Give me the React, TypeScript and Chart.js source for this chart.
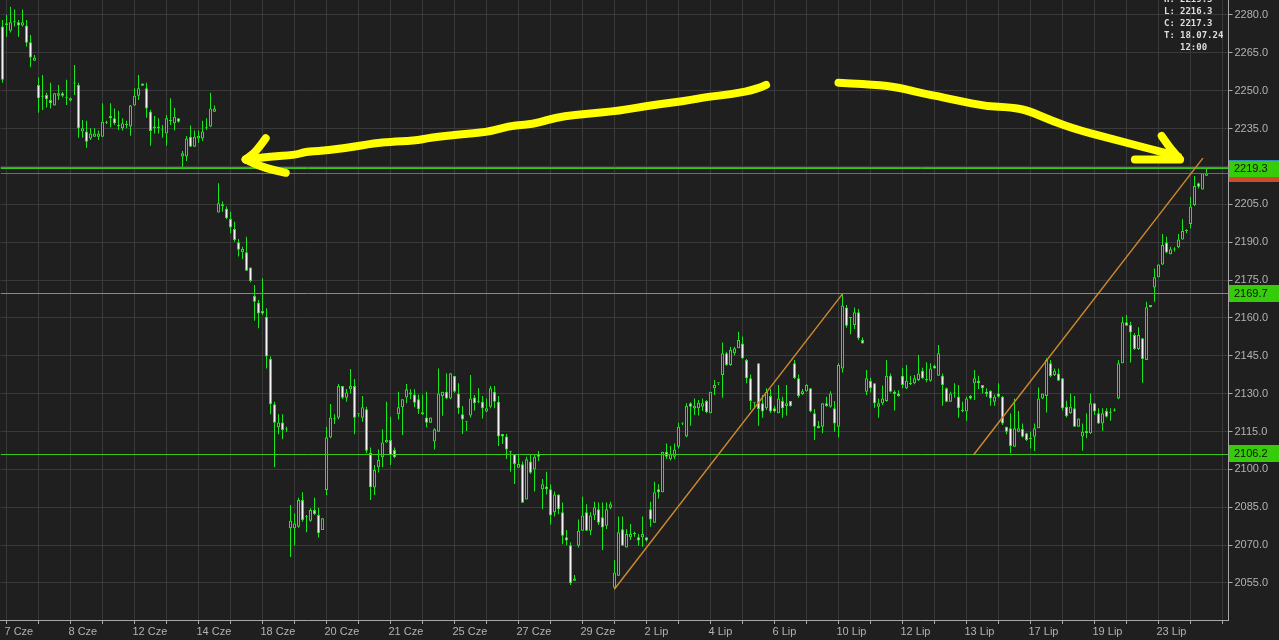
import React, { useEffect, useRef } from "react";
import { Chart, registerables } from "chart.js";

Chart.register(...registerables);

// ---------- data ----------
const dateLabels = ["7 Cze", "8 Cze", "12 Cze", "14 Cze", "18 Cze", "20 Cze", "21 Cze", "25 Cze", "27 Cze", "29 Cze", "2 Lip", "4 Lip", "6 Lip", "10 Lip", "12 Lip", "13 Lip", "17 Lip", "19 Lip", "23 Lip"];
const priceTicks = [2055, 2070, 2085, 2100, 2115, 2130, 2145, 2160, 2175, 2190, 2205, 2220, 2235, 2250, 2265, 2280];

const openP = [
  2275.4, 2276.0, 2273.8, 2277.4, 2277.1, 2275.8, 2275.8, 2269.2, 2261.9, 2252.3,
  2247.6, 2248.3, 2246.3, 2244.1, 2248.0, 2249.0, 2247.0, 2246.1, 2253.0, 2252.3,
  2233.8, 2233.8, 2231.1, 2231.8, 2231.8, 2231.8, 2237.4, 2240.0, 2239.1, 2236.0,
  2235.1, 2236.5, 2235.8, 2244.1, 2248.0, 2252.9, 2251.0, 2241.7, 2235.1, 2235.8,
  2234.2, 2233.1, 2238.0, 2237.1, 2239.1, 2223.9, 2223.9, 2231.8, 2227.8, 2231.1,
  2231.1, 2235.3, 2235.8, 2241.7, 2201.8, 2204.2, 2203.2, 2199.2, 2195.2, 2190.0,
  2186.0, 2186.0, 2180.0, 2168.7, 2166.0, 2162.7, 2160.5, 2143.7, 2125.8, 2116.7,
  2118.6, 2115.9, 2076.7, 2076.7, 2077.3, 2087.9, 2081.1, 2079.7, 2083.9, 2081.9,
  2076.0, 2091.8, 2112.6, 2119.9, 2120.5, 2133.0, 2128.4, 2131.7, 2133.0, 2121.9,
  2120.5, 2123.8, 2106.6, 2092.8, 2100.8, 2104.8, 2110.7, 2111.6, 2107.7, 2121.8,
  2124.6, 2128.5, 2130.5, 2129.7, 2127.8, 2122.6, 2120.6, 2118.5, 2111.0, 2114.9,
  2129.1, 2130.8, 2128.1, 2137.0, 2130.1, 2121.8, 2118.9, 2121.3, 2128.5, 2126.8,
  2126.8, 2122.9, 2124.8, 2130.8, 2126.8, 2114.0, 2113.0, 2107.0, 2106.0, 2100.7,
  2102.0, 2088.1, 2103.1, 2100.0, 2106.0, 2092.1, 2093.2, 2092.1, 2083.0, 2090.1,
  2083.0, 2073.1, 2070.0, 2055.9, 2069.8, 2075.7, 2083.0, 2075.7, 2081.7, 2084.2,
  2081.0, 2077.7, 2084.8, 2053.1, 2057.9, 2076.3, 2069.1, 2073.1, 2074.4, 2073.1,
  2073.1, 2073.1, 2084.2, 2078.9, 2092.1, 2090.9, 2107.0, 2104.0, 2105.0, 2109.0,
  2118.2, 2113.0, 2126.2, 2124.2, 2124.2, 2124.8, 2127.1, 2122.2, 2132.1, 2134.1,
  2137.4, 2146.0, 2141.4, 2146.0, 2148.0, 2149.9, 2143.3, 2136.1, 2126.4, 2142.0,
  2126.2, 2124.2, 2129.1, 2124.2, 2122.2, 2127.1, 2125.1, 2127.1, 2142.0, 2136.1,
  2129.9, 2131.0, 2132.1, 2122.2, 2117.2, 2116.9, 2126.2, 2124.8, 2124.2, 2116.9,
  2140.0, 2164.1, 2160.1, 2157.2, 2162.2, 2151.3, 2130.8, 2135.1, 2134.1, 2124.8,
  2126.2, 2127.1, 2137.1, 2130.8, 2130.1, 2137.1, 2132.1, 2133.8, 2134.1, 2135.4,
  2139.1, 2135.4, 2135.1, 2141.1, 2137.1, 2137.1, 2132.1, 2126.8, 2130.1, 2128.8,
  2123.1, 2122.9, 2129.1, 2134.1, 2135.1, 2133.4, 2130.8, 2131.1, 2126.8, 2130.1,
  2128.8, 2116.9, 2116.3, 2109.0, 2114.9, 2116.0, 2114.3, 2112.0, 2112.9, 2116.3,
  2128.1, 2129.1, 2142.0, 2137.4, 2138.0, 2136.1, 2124.8, 2122.2, 2124.2, 2116.9,
  2113.0, 2115.2, 2114.3, 2126.2, 2122.2, 2118.2, 2123.1, 2122.2, 2123.3, 2128.1,
  2142.0, 2158.3, 2157.2, 2153.2, 2147.7, 2151.9, 2143.3, 2165.1, 2172.1, 2176.1,
  2181.2, 2189.9, 2185.2, 2187.2, 2188.0, 2191.1, 2194.4, 2197.2, 2204.7, 2213.3,
  2210.9, 2216.3,
];

const highP = [
  2278.0, 2280.0, 2283.3, 2282.2, 2278.0, 2282.2, 2278.0, 2272.1, 2264.2, 2255.2,
  2256.2, 2249.2, 2253.2, 2249.0, 2252.3, 2249.5, 2254.3, 2247.3, 2260.2, 2253.2,
  2238.4, 2238.1, 2235.1, 2235.1, 2234.2, 2245.0, 2238.1, 2245.0, 2243.0, 2242.1,
  2239.1, 2238.1, 2244.3, 2251.0, 2256.2, 2252.9, 2253.2, 2242.4, 2240.0, 2239.1,
  2236.4, 2240.4, 2247.0, 2243.3, 2239.1, 2226.1, 2232.1, 2236.2, 2234.2, 2234.2,
  2238.1, 2239.1, 2249.2, 2244.1, 2213.3, 2206.1, 2204.1, 2202.1, 2198.1, 2191.3,
  2188.2, 2192.2, 2180.0, 2173.0, 2167.1, 2175.7, 2163.8, 2144.7, 2126.8, 2121.8,
  2121.8, 2116.9, 2085.9, 2082.6, 2088.8, 2090.9, 2081.9, 2084.6, 2088.8, 2084.8,
  2080.6, 2116.9, 2125.9, 2121.8, 2133.8, 2133.0, 2131.8, 2139.8, 2135.8, 2121.9,
  2129.1, 2124.8, 2108.7, 2101.7, 2107.9, 2115.9, 2126.8, 2120.9, 2108.7, 2130.8,
  2127.8, 2133.8, 2131.7, 2131.7, 2129.7, 2129.7, 2130.8, 2120.6, 2116.3, 2140.0,
  2130.8, 2138.1, 2138.1, 2137.0, 2134.1, 2125.1, 2119.0, 2137.4, 2129.5, 2132.1,
  2129.1, 2128.1, 2133.0, 2133.0, 2129.1, 2114.0, 2114.0, 2107.3, 2106.0, 2105.7,
  2103.1, 2105.0, 2105.7, 2105.7, 2107.3, 2096.2, 2099.1, 2094.1, 2091.2, 2090.1,
  2086.9, 2076.0, 2071.1, 2058.2, 2080.2, 2089.2, 2086.2, 2083.0, 2087.2, 2086.9,
  2086.9, 2086.9, 2087.2, 2064.1, 2081.3, 2081.3, 2076.3, 2078.4, 2075.3, 2074.4,
  2081.3, 2073.1, 2087.2, 2095.1, 2094.1, 2107.0, 2110.3, 2109.3, 2110.3, 2118.5,
  2118.5, 2126.2, 2126.6, 2128.1, 2127.5, 2128.1, 2127.5, 2130.8, 2135.4, 2134.1,
  2150.3, 2146.6, 2148.6, 2148.6, 2154.5, 2152.6, 2143.7, 2137.6, 2126.4, 2142.0,
  2129.5, 2132.1, 2131.8, 2125.2, 2133.4, 2128.8, 2133.4, 2127.1, 2143.3, 2137.6,
  2131.8, 2133.7, 2132.1, 2123.9, 2119.2, 2126.2, 2128.8, 2131.0, 2127.1, 2142.0,
  2169.7, 2165.1, 2160.1, 2164.1, 2163.5, 2152.2, 2139.4, 2136.3, 2134.1, 2128.1,
  2133.2, 2143.3, 2138.0, 2131.4, 2131.4, 2140.3, 2141.4, 2137.1, 2137.4, 2145.3,
  2140.3, 2142.4, 2142.0, 2141.6, 2149.3, 2138.0, 2132.4, 2130.8, 2134.1, 2133.4,
  2126.8, 2128.8, 2129.5, 2139.4, 2137.1, 2133.4, 2132.1, 2131.4, 2129.7, 2134.1,
  2129.1, 2116.9, 2122.2, 2128.1, 2123.1, 2118.2, 2114.5, 2114.9, 2118.2, 2132.4,
  2130.1, 2144.0, 2143.3, 2140.0, 2140.0, 2136.1, 2127.2, 2130.1, 2129.1, 2120.2,
  2118.2, 2122.2, 2130.1, 2126.2, 2124.2, 2124.2, 2124.2, 2124.2, 2124.2, 2143.3,
  2160.5, 2161.2, 2158.5, 2153.9, 2156.3, 2151.9, 2166.4, 2165.1, 2179.6, 2181.2,
  2193.2, 2192.2, 2188.2, 2188.0, 2193.2, 2199.1, 2195.1, 2208.0, 2216.2, 2213.6,
  2217.3, 2219.5,
];

const lowP = [
  2253.2, 2271.4, 2273.1, 2275.4, 2271.4, 2275.4, 2267.5, 2259.3, 2261.9, 2241.3,
  2242.4, 2243.4, 2243.0, 2244.1, 2246.3, 2247.4, 2244.3, 2245.7, 2248.3, 2231.4,
  2231.4, 2227.4, 2230.5, 2231.8, 2230.5, 2231.8, 2236.8, 2235.5, 2236.4, 2234.4,
  2234.2, 2235.1, 2232.2, 2244.0, 2246.3, 2252.0, 2239.3, 2228.2, 2233.1, 2233.1,
  2231.4, 2228.2, 2236.4, 2234.2, 2237.3, 2219.5, 2222.2, 2227.8, 2227.8, 2229.4,
  2230.1, 2234.4, 2235.5, 2241.7, 2201.8, 2202.1, 2199.2, 2193.5, 2190.2, 2184.3,
  2183.2, 2178.7, 2174.1, 2158.9, 2155.9, 2161.2, 2140.0, 2121.8, 2100.8, 2113.9,
  2111.9, 2114.9, 2065.3, 2070.0, 2076.9, 2079.3, 2075.1, 2079.3, 2081.9, 2073.0,
  2076.0, 2089.9, 2112.3, 2118.0, 2119.8, 2127.9, 2126.8, 2130.1, 2113.9, 2120.9,
  2118.9, 2106.4, 2087.9, 2089.9, 2098.8, 2100.8, 2110.6, 2101.7, 2104.4, 2119.8,
  2113.6, 2126.2, 2127.8, 2124.6, 2121.9, 2121.5, 2116.7, 2118.5, 2107.9, 2114.9,
  2121.2, 2127.8, 2127.8, 2130.4, 2121.9, 2114.0, 2115.2, 2120.6, 2123.3, 2126.2,
  2120.2, 2122.6, 2124.2, 2124.2, 2109.3, 2110.1, 2104.1, 2099.1, 2094.2, 2100.7,
  2086.8, 2088.1, 2098.2, 2091.2, 2103.3, 2084.2, 2090.1, 2078.2, 2081.3, 2082.2,
  2070.3, 2070.0, 2054.2, 2055.9, 2069.1, 2075.7, 2075.7, 2074.0, 2080.0, 2078.0,
  2068.1, 2076.4, 2084.2, 2052.5, 2057.9, 2069.8, 2069.1, 2072.0, 2073.3, 2069.8,
  2069.4, 2071.4, 2077.3, 2078.9, 2088.5, 2090.9, 2104.1, 2103.5, 2104.1, 2108.3,
  2117.6, 2112.7, 2117.3, 2121.5, 2121.3, 2123.1, 2122.2, 2122.2, 2129.5, 2133.4,
  2128.4, 2141.1, 2141.1, 2145.1, 2148.0, 2143.7, 2134.1, 2123.5, 2124.2, 2117.3,
  2120.5, 2123.5, 2122.2, 2122.5, 2122.2, 2120.5, 2121.3, 2124.8, 2135.8, 2128.4,
  2129.5, 2130.8, 2122.6, 2111.6, 2116.3, 2114.3, 2124.8, 2124.4, 2114.9, 2112.6,
  2138.4, 2156.1, 2153.5, 2155.6, 2151.3, 2149.9, 2129.5, 2130.5, 2124.4, 2120.5,
  2125.5, 2126.8, 2130.5, 2123.3, 2128.8, 2132.1, 2131.8, 2133.4, 2133.7, 2135.0,
  2135.8, 2134.5, 2134.7, 2140.0, 2137.1, 2125.2, 2126.6, 2126.8, 2128.4, 2120.5,
  2122.6, 2119.3, 2127.7, 2127.5, 2131.8, 2130.1, 2128.8, 2125.2, 2125.2, 2128.4,
  2117.6, 2113.9, 2106.4, 2109.0, 2114.7, 2112.6, 2111.2, 2108.3, 2107.3, 2116.3,
  2127.9, 2122.5, 2136.5, 2137.0, 2135.1, 2123.3, 2120.6, 2121.9, 2116.9, 2116.9,
  2107.4, 2112.3, 2114.0, 2121.5, 2118.0, 2115.3, 2120.6, 2119.3, 2122.9, 2127.8,
  2142.0, 2156.9, 2142.3, 2147.3, 2147.3, 2134.3, 2143.3, 2164.2, 2166.4, 2176.1,
  2181.0, 2185.6, 2185.2, 2186.3, 2187.6, 2191.1, 2193.5, 2195.5, 2204.3, 2211.3,
  2210.9, 2216.3,
];

const closeP = [
  2254.3, 2276.7, 2277.1, 2277.1, 2275.8, 2277.1, 2269.0, 2263.2, 2263.2, 2247.0,
  2247.9, 2246.7, 2245.0, 2249.0, 2249.0, 2248.0, 2247.2, 2247.0, 2252.9, 2235.1,
  2235.1, 2229.8, 2233.1, 2233.1, 2233.1, 2237.7, 2237.3, 2239.1, 2237.1, 2236.1,
  2237.1, 2236.4, 2244.1, 2248.0, 2251.0, 2252.0, 2243.0, 2234.0, 2235.8, 2235.1,
  2234.3, 2239.1, 2238.1, 2239.7, 2237.7, 2225.2, 2231.1, 2227.8, 2231.8, 2232.1,
  2233.8, 2235.4, 2243.0, 2243.0, 2205.4, 2205.0, 2199.5, 2195.8, 2190.9, 2187.0,
  2187.3, 2178.7, 2174.6, 2166.4, 2161.8, 2161.8, 2144.7, 2125.8, 2118.5, 2118.6,
  2115.6, 2115.8, 2079.7, 2078.6, 2087.9, 2080.0, 2081.0, 2083.9, 2082.3, 2074.7,
  2080.6, 2112.7, 2120.6, 2120.0, 2133.0, 2128.4, 2130.5, 2133.0, 2120.5, 2121.8,
  2124.6, 2107.4, 2092.9, 2099.8, 2103.7, 2110.7, 2111.6, 2105.7, 2104.8, 2124.6,
  2127.8, 2131.7, 2129.7, 2126.4, 2123.8, 2121.8, 2118.5, 2120.6, 2115.9, 2130.1,
  2130.8, 2128.1, 2138.1, 2130.8, 2124.2, 2119.8, 2119.0, 2128.1, 2126.2, 2126.9,
  2124.2, 2124.2, 2132.1, 2126.8, 2113.0, 2113.0, 2107.9, 2107.1, 2102.1, 2102.1,
  2086.8, 2104.0, 2098.7, 2105.0, 2105.0, 2094.1, 2092.1, 2081.7, 2090.1, 2084.2,
  2073.7, 2071.8, 2054.9, 2056.8, 2075.7, 2081.7, 2075.7, 2081.7, 2085.0, 2078.9,
  2077.0, 2084.2, 2086.2, 2059.2, 2075.1, 2069.8, 2074.4, 2074.4, 2074.5, 2071.8,
  2074.4, 2071.8, 2080.2, 2090.9, 2090.9, 2107.0, 2105.0, 2106.0, 2107.9, 2116.9,
  2118.3, 2125.1, 2124.8, 2125.2, 2126.4, 2126.2, 2122.6, 2130.8, 2133.4, 2134.1,
  2146.0, 2141.4, 2147.3, 2148.0, 2151.3, 2144.0, 2136.1, 2127.1, 2126.5, 2123.9,
  2122.9, 2130.8, 2122.9, 2122.9, 2128.1, 2124.2, 2126.2, 2125.1, 2136.1, 2129.1,
  2131.0, 2133.4, 2122.9, 2116.9, 2116.3, 2126.2, 2125.1, 2130.1, 2118.2, 2141.4,
  2164.9, 2156.9, 2160.0, 2162.2, 2151.9, 2149.9, 2136.1, 2132.1, 2126.2, 2126.2,
  2128.1, 2137.1, 2130.8, 2129.9, 2129.1, 2133.4, 2135.1, 2133.9, 2136.1, 2138.0,
  2136.1, 2135.5, 2140.0, 2140.0, 2146.0, 2133.4, 2126.8, 2130.1, 2130.2, 2124.2,
  2123.2, 2128.1, 2128.1, 2136.1, 2134.1, 2132.1, 2129.9, 2128.1, 2128.8, 2128.8,
  2118.2, 2114.9, 2109.3, 2116.3, 2116.3, 2112.9, 2111.6, 2112.1, 2116.3, 2128.1,
  2130.1, 2143.3, 2137.0, 2139.1, 2135.1, 2124.2, 2121.1, 2124.8, 2116.9, 2120.2,
  2114.9, 2114.3, 2126.2, 2122.9, 2118.2, 2122.2, 2120.9, 2122.3, 2123.2, 2142.0,
  2158.3, 2156.9, 2154.2, 2147.7, 2153.2, 2143.7, 2164.2, 2164.2, 2176.1, 2181.2,
  2188.9, 2185.9, 2187.2, 2187.1, 2191.1, 2194.4, 2194.5, 2204.1, 2212.3, 2212.0,
  2217.3, 2217.3,
];

const levelPrices = [2219.3, 2169.7, 2106.2];
const askPrice = 2219.9;
const lastPrice = 2217.3;

// user drawings, as [bar index, price]
const trendLines = [
  [[152.95, 2052.5], [210.1, 2169.7]],
  [[242.75, 2105.7], [300.1, 2223.3]],
];
const arrowLeftShaft = [
  [190.9, 2252.3], [188.7, 2250.6], [182.6, 2248.7], [175.6, 2247.4], [172.1, 2246.3], [167.7, 2245.4],
  [160.7, 2243.9], [154.5, 2242.1], [145.8, 2240.8], [140.5, 2240.0], [136.1, 2238.4], [132.6, 2236.7],
  [128.2, 2236.4], [124.7, 2235.1], [121.2, 2233.6], [114.2, 2232.7], [107.2, 2231.4], [102.8, 2230.2],
  [96.7, 2229.7], [93.2, 2229.2], [86.2, 2227.4], [80.0, 2226.2], [75.7, 2225.8], [73.0, 2224.5],
  [66.9, 2223.9], [60.8, 2222.8],
];
const arrowLeftHeadUp = [[65.8, 2231.2], [63.4, 2225.8], [60.8, 2222.8]];
const arrowLeftHeadDown = [[60.8, 2222.8], [64.3, 2219.9], [70.8, 2217.5]];
const arrowRightShaft = [
  [209.0, 2253.2], [215.6, 2252.7], [223.1, 2251.6], [228.1, 2249.6], [232.3, 2248.3], [238.9, 2246.1],
  [245.6, 2243.9], [252.3, 2243.4], [256.5, 2242.1], [262.3, 2238.1], [269.0, 2234.4], [279.0, 2230.2],
  [287.3, 2226.8], [293.9, 2223.9],
];
const arrowRightHeadUp = [[289.8, 2232.1], [291.5, 2228.1], [293.9, 2223.6]];
const arrowRightHeadDown = [[283.1, 2222.8], [294.4, 2222.8]];

const infoKeys = ["H:", "L:", "C:", "T:", ""];
const infoValues = ["2219.5", "2216.3", "2217.3", "18.07.24", "12:00"];

// ---------- styling ----------
const SLOT_COUNT = 307;
const Y_MIN = 2040.34;
const Y_MAX = 2285.94;
const BG = "#1f1f1f";
const GRID = "#3a3a3a";
const AXIS = "#a8a8a8";
const TEXT = "#b2b2b2";
const CANDLE = "#1ee61e";
const BEAR_FILL = "#f4f4f4";
const LEVEL = "#38c81c";
const BOX_GREEN = "#36cc0a";
const RED = "#cf4a2a";
const TEAL = "#2f8fb8";
const ORANGE = "#cf8a2c";
const YELLOW = "#ffff00";
const FONT_FAMILY = "'Liberation Sans', Arial, sans-serif";

const overlayPlugin = {
  id: "overlay",
  beforeDraw(chart: any) {
    const ctx = chart.ctx;
    ctx.save();
    ctx.fillStyle = BG;
    ctx.fillRect(0, 0, chart.width, chart.height);
    ctx.restore();
  },
  afterDatasetsDraw(chart: any) {
    const { ctx, chartArea: ca, scales } = chart;
    const xs = scales.x;
    const ys = scales.y;
    ctx.save();
    ctx.beginPath();
    ctx.rect(ca.left, ca.top, ca.right - ca.left, ca.bottom - ca.top);
    ctx.clip();

    const hline = (v: number, color: string) => {
      const py = Math.round(ys.getPixelForValue(v)) + 0.5;
      ctx.strokeStyle = color;
      ctx.lineWidth = 1;
      ctx.beginPath();
      ctx.moveTo(ca.left, py);
      ctx.lineTo(ca.right, py);
      ctx.stroke();
    };
    hline(lastPrice, RED);
    hline(askPrice, TEAL);
    levelPrices.forEach((v) => hline(v, LEVEL));

    const toPx = (p: number[]) => [xs.getPixelForValue(p[0]), ys.getPixelForValue(p[1])];

    ctx.strokeStyle = ORANGE;
    ctx.lineWidth = 1.4;
    trendLines.forEach((seg) => {
      ctx.beginPath();
      seg.forEach((p, i) => {
        const [px, py] = toPx(p);
        if (i === 0) ctx.moveTo(px, py);
        else ctx.lineTo(px, py);
      });
      ctx.stroke();
    });

    const smoothPath = (pts: number[][]) => {
      const px = pts.map(toPx);
      ctx.beginPath();
      ctx.moveTo(px[0][0], px[0][1]);
      if (px.length === 2) {
        ctx.lineTo(px[1][0], px[1][1]);
      } else {
        for (let i = 1; i < px.length - 1; i++) {
          const mx = (px[i][0] + px[i + 1][0]) / 2;
          const my = (px[i][1] + px[i + 1][1]) / 2;
          ctx.quadraticCurveTo(px[i][0], px[i][1], mx, my);
        }
        const last = px[px.length - 1];
        ctx.lineTo(last[0], last[1]);
      }
      ctx.stroke();
    };
    ctx.strokeStyle = YELLOW;
    ctx.lineWidth = 8;
    ctx.lineCap = "round";
    ctx.lineJoin = "round";
    [arrowLeftShaft, arrowLeftHeadUp, arrowLeftHeadDown, arrowRightShaft, arrowRightHeadUp, arrowRightHeadDown].forEach(smoothPath);
    ctx.restore();
  },
  afterDraw(chart: any) {
    const { ctx, chartArea: ca, scales } = chart;
    const ys = scales.y;
    ctx.save();
    ctx.font = `11px ${FONT_FAMILY}`;
    ctx.textAlign = "left";
    ctx.textBaseline = "middle";
    const box = (v: number, bg: string, fg: string) => {
      const top = Math.round(ys.getPixelForValue(v) - 8.5);
      const left = Math.round(ca.right);
      ctx.fillStyle = bg;
      ctx.fillRect(left, top, chart.width - left, 17);
      ctx.fillStyle = fg;
      ctx.fillText(v.toFixed(1), left + 5, top + 9);
      return { left, top };
    };
    box(lastPrice, RED, "#f2dede");
    const b = box(levelPrices[0], BOX_GREEN, "#111111");
    ctx.fillStyle = TEAL;
    ctx.fillRect(b.left, b.top, chart.width - b.left, 1);
    box(levelPrices[1], BOX_GREEN, "#111111");
    box(levelPrices[2], BOX_GREEN, "#111111");

    ctx.font = "bold 9px 'DejaVu Sans Mono', monospace";
    ctx.fillStyle = "#dedede";
    infoKeys.forEach((k, i) => {
      const yy = i * 12;
      if (k) ctx.fillText(k, 1164, yy);
      ctx.fillText(infoValues[i], 1180, yy);
    });
    ctx.restore();
  },
};

export default function App() {
  const canvasRef = useRef<HTMLCanvasElement | null>(null);

  useEffect(() => {
    document.body.style.margin = "0";
    document.body.style.background = BG;
    const slots = Array.from({ length: SLOT_COUNT }, (_, i) => String(i));
    const wicks = lowP.map((l, i) => [l, highP[i]]);
    const bodies = openP.map((o, i) => [Math.min(o, closeP[i]), Math.max(o, closeP[i])]);
    const fills = openP.map((o, i) => (closeP[i] < o ? BEAR_FILL : BG));

    const chart = new Chart(canvasRef.current as HTMLCanvasElement, {
      type: "bar",
      data: {
        labels: slots,
        datasets: [
          {
            data: bodies as any,
            backgroundColor: fills,
            borderColor: CANDLE,
            borderWidth: 1,
            borderSkipped: false,
            barThickness: 3,
            minBarLength: 1,
            grouped: false,
            inflateAmount: 0,
            order: 1,
          } as any,
          {
            data: wicks as any,
            backgroundColor: CANDLE,
            borderWidth: 0,
            barThickness: 1,
            minBarLength: 1,
            grouped: false,
            inflateAmount: 0,
            order: 2,
          } as any,
        ],
      },
      options: {
        responsive: false,
        maintainAspectRatio: false,
        devicePixelRatio: 1,
        animation: false,
        events: [],
        layout: { padding: { left: 0.5, right: 0.5, top: 0, bottom: 0 } },
        plugins: { legend: { display: false }, tooltip: { enabled: false } },
        scales: {
          x: {
            type: "category",
            offset: true,
            grid: {
              offset: false,
              color: (c: any) => (c.index % 8 === 1 ? GRID : "rgba(0,0,0,0)"),
              tickColor: (c: any) => (c.index % 8 === 1 ? AXIS : "rgba(0,0,0,0)"),
              tickLength: 4,
            },
            border: { color: AXIS },
            ticks: {
              autoSkip: false,
              maxRotation: 0,
              minRotation: 0,
              align: "start",
              labelOffset: -2,
              padding: 1,
              color: TEXT,
              font: { family: FONT_FAMILY, size: 11 },
              callback: (_v: any, i: number) => ((i - 1) % 16 === 0 ? dateLabels[(i - 1) / 16] ?? "" : ""),
            },
            afterFit: (s: any) => {
              s.height = 20;
              s.paddingLeft = 0;
              s.paddingRight = 0;
            },
          },
          y: {
            type: "linear",
            position: "right",
            min: Y_MIN,
            max: Y_MAX,
            afterBuildTicks: (s: any) => {
              s.ticks = priceTicks.map((v) => ({ value: v }));
            },
            grid: { color: GRID, tickColor: AXIS, tickLength: 4 },
            border: { color: AXIS },
            ticks: {
              color: TEXT,
              padding: 2,
              font: { family: FONT_FAMILY, size: 11 },
              callback: (v: any) => Number(v).toFixed(1),
            },
            afterFit: (s: any) => {
              s.width = 50;
              s.paddingTop = 0;
              s.paddingBottom = 0;
            },
          },
        },
      } as any,
      plugins: [overlayPlugin],
    });
    return () => chart.destroy();
  }, []);

  return (
    <div style={{ width: 1279, height: 640 }}>
      <canvas ref={canvasRef} width={1279} height={640} style={{ display: "block" }} />
    </div>
  );
}
